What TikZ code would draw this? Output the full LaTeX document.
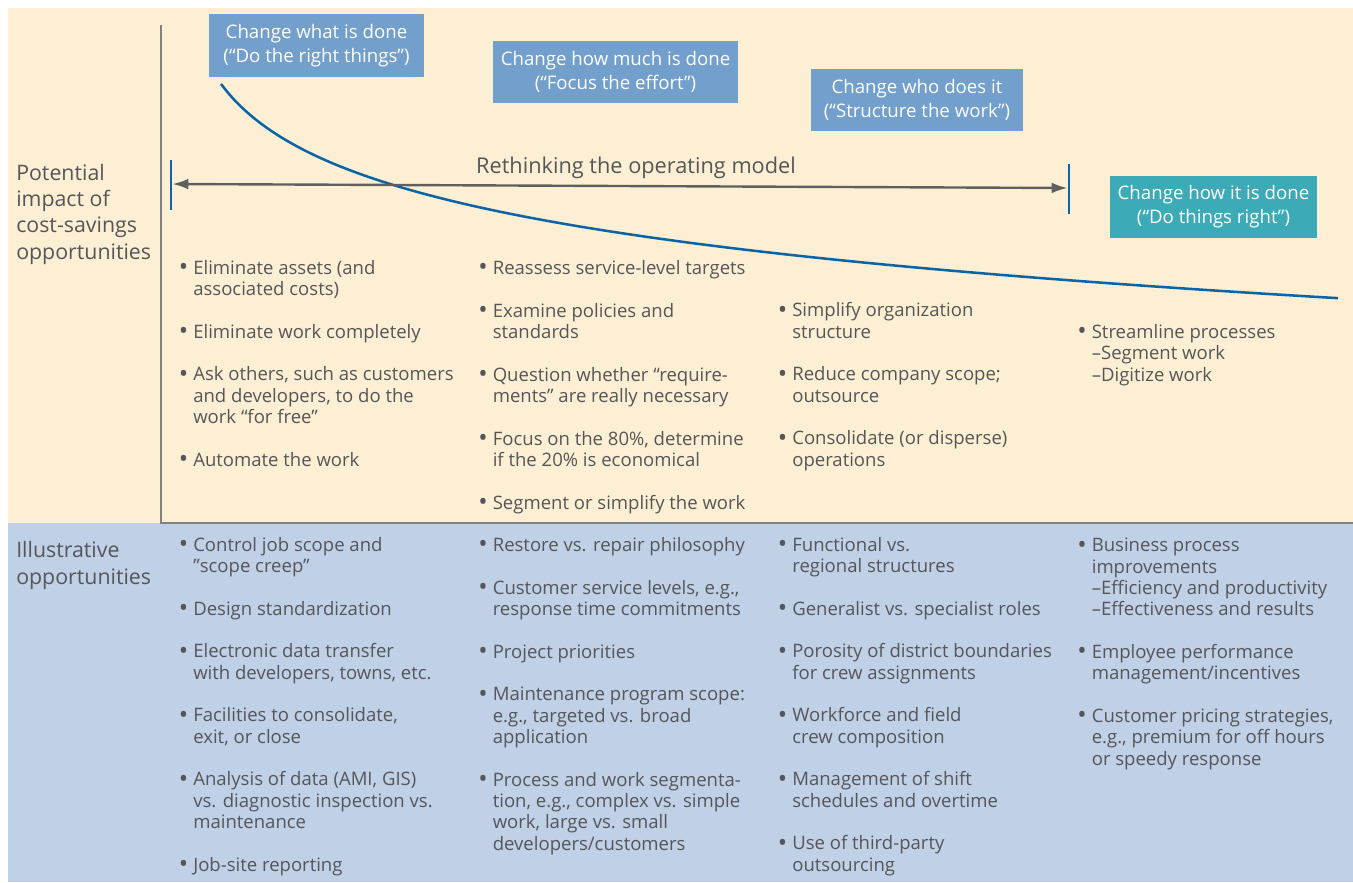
\documentclass[tikz,border=0pt]{standalone}
\usepackage{fontspec}
\setmainfont{Open Sans}
\usetikzlibrary{arrows.meta}
\definecolor{cream}{RGB}{253,239,211}
\definecolor{lblue}{RGB}{192,208,230}
\definecolor{boxblue}{RGB}{114,159,204}
\definecolor{teal}{RGB}{61,170,183}
\definecolor{curveblue}{RGB}{10,100,165}
\definecolor{txt}{RGB}{85,86,89}
\definecolor{axisgrey}{RGB}{128,128,128}
\definecolor{arrowgrey}{RGB}{95,95,95}
\newlength\bw
\setlength\bw{10.3pt}
\newcommand\bu{\makebox[\bw][l]{\hspace*{-0.6pt}\raisebox{-0.08em}{\scalebox{1.35}{•}}}}
\newcommand\ind{\hspace*{\bw}}
\begin{document}
\begin{tikzpicture}[x=0.75pt,y=-0.75pt,
  hdr/.style={fill=boxblue,text=white,align=center,inner sep=0pt,
     font=\fontsize{14pt}{18pt}\selectfont},
  list/.style={anchor=base west,align=left,inner sep=0pt,text=txt,
     font=\fontsize{13.9pt}{16pt}\selectfont},
  side/.style={anchor=base west,align=left,inner sep=0pt,text=txt,
     font=\fontsize{16pt}{19.6pt}\selectfont},
  axisline/.style={draw=axisgrey,line width=1.1pt},
  tick/.style={draw=curveblue,line width=0.9pt},
  dbl/.style={draw=arrowgrey,line width=1.8pt,
     {Latex[length=12pt,width=8pt]}-{Latex[length=12pt,width=8pt]}},
  curve/.style={draw=curveblue,line width=1.9pt}]
\useasboundingbox (0,0) rectangle (1353,882);
\fill[white] (0,0) rectangle (1353,882);
\fill[cream] (8,8) rectangle (1353,523);
\fill[lblue] (8,523) rectangle (1353,882);
\draw[axisline] (161,25) -- (161,523) -- (1353,523);

% curve
\draw[curve] plot[domain=221:1338,samples=160,smooth] (\x,{184+68.4*(ln(\x-170)-5.394)});

% header boxes
\node[hdr,minimum width=161.25pt,minimum height=47.25pt] (b1) at (316.5,45.5)
  {Change what is done\\(“Do the right things”)};
\node[hdr,minimum width=183.75pt,minimum height=46.5pt] (b2) at (615.5,72)
  {Change how much is done\\(“Focus the effort”)};
\node[hdr,minimum width=159pt,minimum height=46.5pt] (b3) at (917,100)
  {Change who does it\\(“Structure the work”)};
\node[hdr,fill=teal,minimum width=155.25pt,minimum height=46.5pt] (b4) at (1213.5,207)
  {Change how it is done\\(“Do things right”)};

% rethinking arrow
\coordinate (tl) at (171,184);
\coordinate (tr) at (1069,188);
\draw[tick] (171,160) -- (171,210);
\draw[tick] (1069,164) -- (1069,214);
\draw[dbl] ([xshift=1pt]tl) -- ([xshift=-1pt]tr);
\node[anchor=base,inner sep=0pt,text=txt,font=\fontsize{16.3pt}{18pt}\selectfont] (rt) at (636,173)
  {Rethinking the operating model};

% side labels (anchor = baseline of last line)
\node[side] (s1) at (16,259) {Potential\\impact of\\cost-savings\\opportunities};
\node[side] (s2) at (16,584) {Illustrative\\opportunities};

% top lists (anchor = baseline of last line)
\node[list] (t1) at (179.3,466) {\bu Eliminate assets (and\\\ind associated costs)\\[16pt]
\bu Eliminate work completely\\[16pt]
\bu Ask others, such as customers\\\ind and developers, to do the\\\ind work “for free”\\[16pt]
\bu Automate the work};
\node[list] (t2) at (478.8,509) {\bu Reassess service-level targets\\[16pt]
\bu Examine policies and\\\ind standards\\[16pt]
\bu Question whether “require-\\\ind ments” are really necessary\\[16pt]
\bu Focus on the 80\%, determine\\\ind if the 20\% is economical\\[16pt]
\bu Segment or simplify the work};
\node[list] (t3) at (778.3,466) {\bu Simplify organization\\\ind structure\\[16pt]
\bu Reduce company scope;\\\ind outsource\\[16pt]
\bu Consolidate (or disperse)\\\ind operations};
\node[list] (t4) at (1077.8,381) {\bu Streamline processes\\\ind –Segment work\\\ind –Digitize work};

% bottom lists
\node[list] (u1) at (179.3,871) {\bu Control job scope and\\\ind ”scope creep”\\[16pt]
\bu Design standardization\\[16pt]
\bu Electronic data transfer\\\ind with developers, towns, etc.\\[16pt]
\bu Facilities to consolidate,\\\ind exit, or close\\[16pt]
\bu Analysis of data (AMI, GIS)\\\ind vs. diagnostic inspection vs.\\\ind maintenance\\[16pt]
\bu Job-site reporting};
\node[list] (u2) at (478.8,850) {\bu Restore vs. repair philosophy\\[16pt]
\bu Customer service levels, e.g.,\\\ind response time commitments\\[16pt]
\bu Project priorities\\[16pt]
\bu Maintenance program scope:\\\ind e.g., targeted vs. broad\\\ind application\\[16pt]
\bu Process and work segmenta-\\\ind tion, e.g., complex vs. simple\\\ind work, large vs. small\\\ind developers/customers};
\node[list] (u3) at (778.3,871) {\bu Functional vs.\\\ind regional structures\\[16pt]
\bu Generalist vs. specialist roles\\[16pt]
\bu Porosity of district boundaries\\\ind for crew assignments\\[16pt]
\bu Workforce and field\\\ind crew composition\\[16pt]
\bu Management of shift\\\ind schedules and overtime\\[16pt]
\bu Use of third-party\\\ind outsourcing};
\node[list] (u4) at (1077.8,765) {\bu Business process\\\ind improvements\\\ind –Efficiency and productivity\\\ind –Effectiveness and results\\[16pt]
\bu Employee performance\\\ind management/incentives\\[16pt]
\bu Customer pricing strategies,\\\ind e.g., premium for off hours\\\ind or speedy response};
\end{tikzpicture}
\end{document}
